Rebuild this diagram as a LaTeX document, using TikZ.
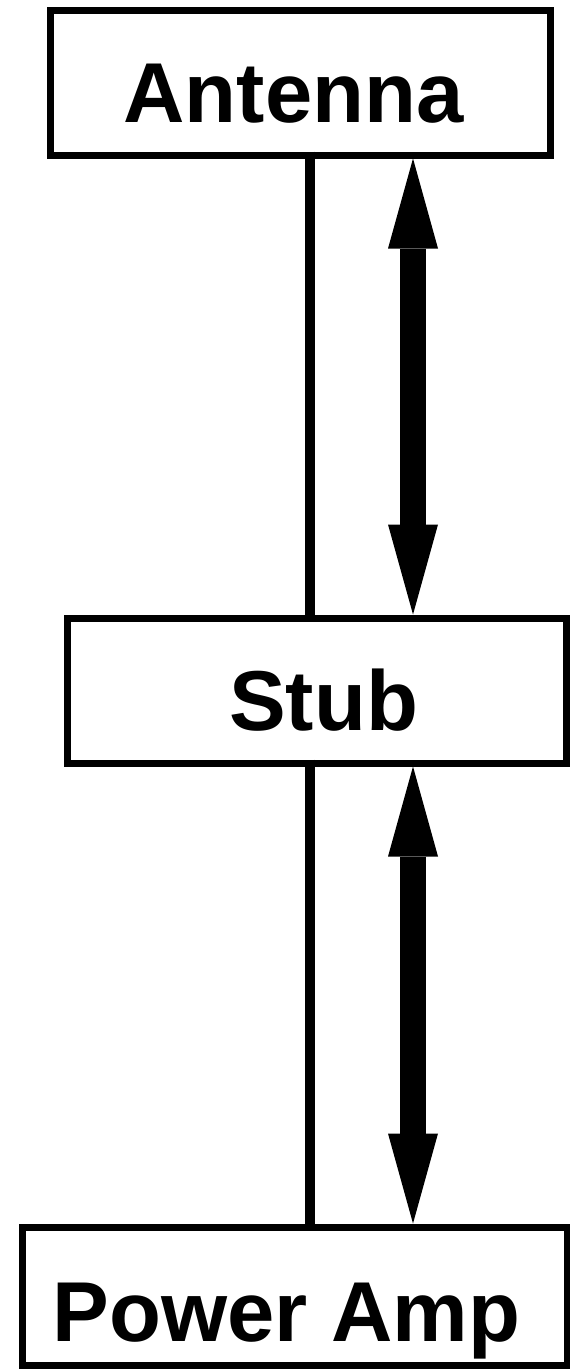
\documentclass[tikz,border=0pt]{standalone}
\usepackage{fontspec}
\setmainfont{Liberation Sans}
\usetikzlibrary{arrows.meta}
\tikzset{
  blk/.style={draw,line width=7pt,inner sep=0pt,font=\fontsize{85pt}{90pt}\bfseries\selectfont,
    text height=80pt,text depth=0pt},
  wire/.style={line width=10pt,shorten <=-7pt,shorten >=-7pt},
  head/.tip={Triangle[length=90pt,width=50pt,line width=0pt]},
  flow/.style={line width=26pt,head-head}
}
\begin{document}
\begin{tikzpicture}[x=1pt,y=-1pt]
   \useasboundingbox (0,0) rectangle (570,1369);
   \node[blk,minimum width=500pt,minimum height=145pt] (ant) at (300,82.5) {Antenna\kern13pt};
   \node[blk,minimum width=499pt,minimum height=145pt] (stub) at (316.5,690.5) {\kern14ptStub};
   \node[blk,minimum width=545pt,minimum height=138.5pt,text height=90pt] (pa) at (294.5,1296.25) {Power Amp\kern16pt};
   \coordinate (wx) at (310,0);
   \coordinate (ax) at (413,0);
   \foreach \a/\b in {ant/stub, stub/pa}
   {
     \draw[wire] (\a.south -| wx) -- (\b.north -| wx);
     \draw[flow] (\a.south -| ax) -- (\b.north -| ax);
   }
\end{tikzpicture}
\end{document}
